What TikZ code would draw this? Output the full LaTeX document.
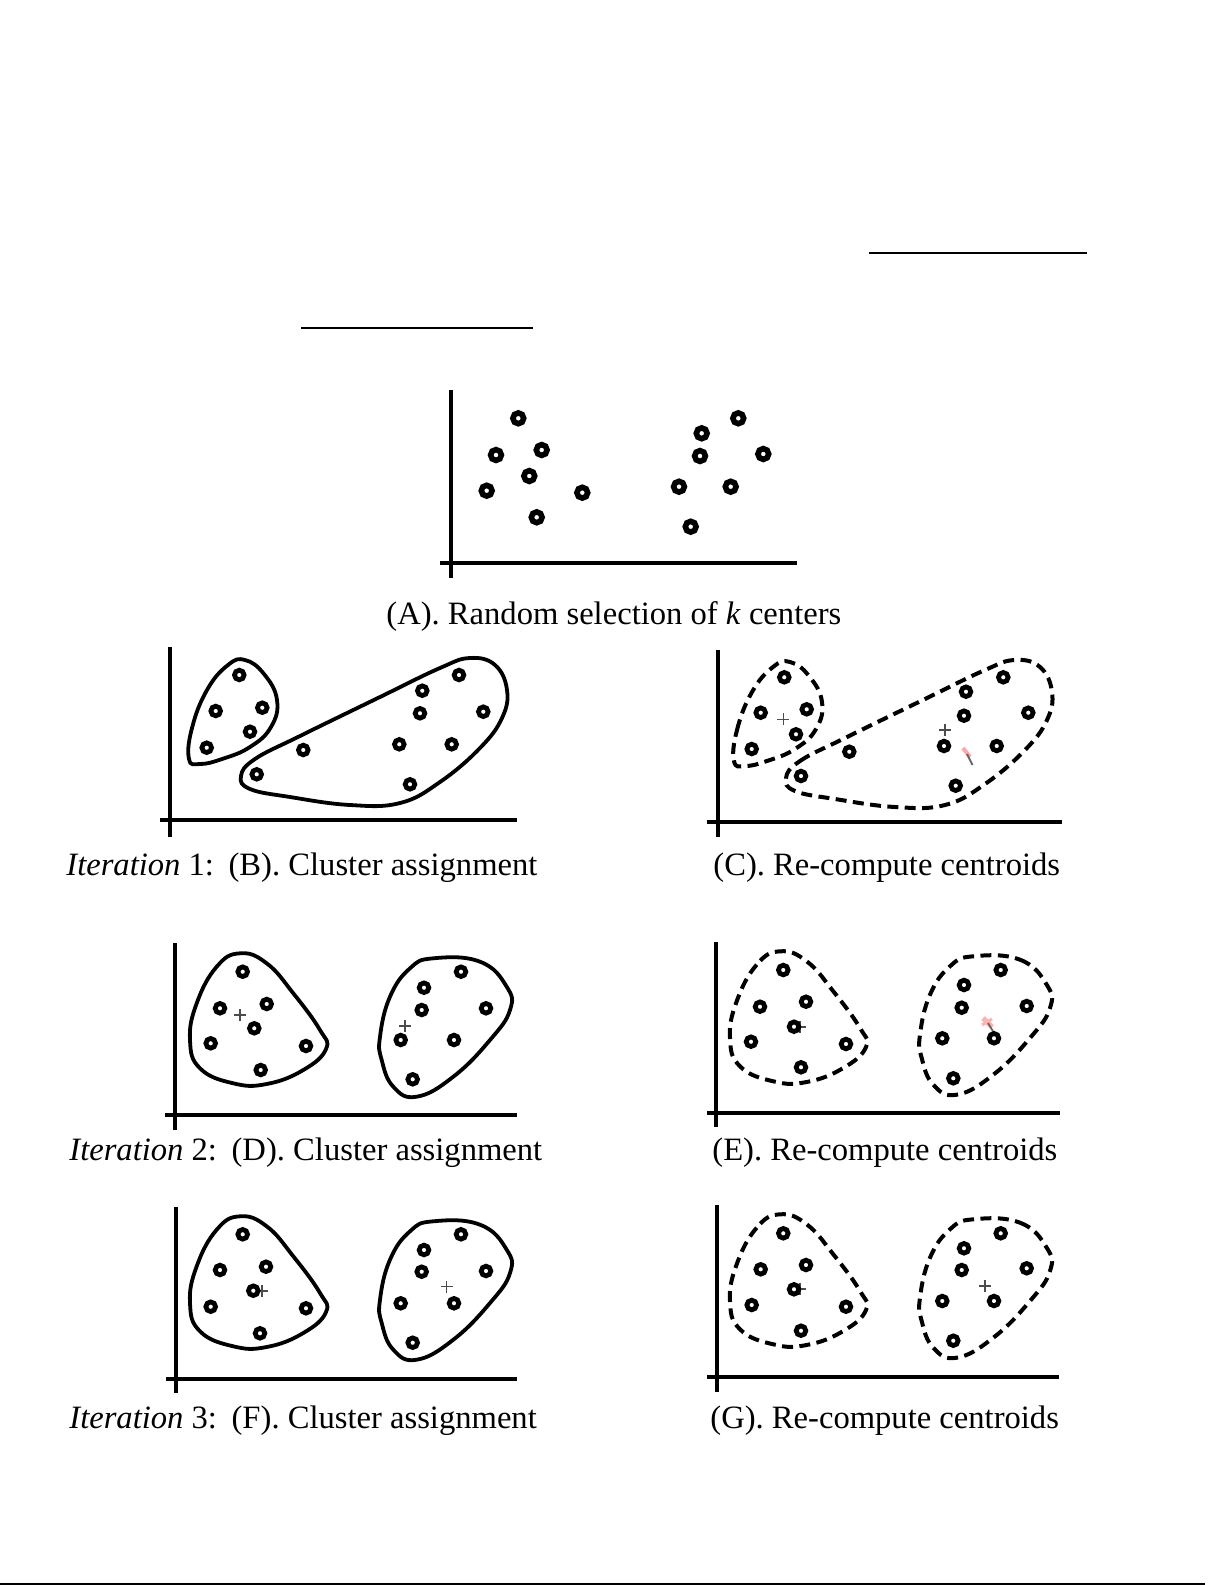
\documentclass[tikz,border=0pt]{standalone}
\usepackage{fontspec}
\setmainfont{Liberation Serif}
\newcommand\ptsA[1]{\foreach \px/\py in {#1}{\draw[ptA] (\px,\py) circle[radius=5.4];}}
\newcommand\ptsB[1]{\foreach \px/\py in {#1}{\draw[ptB] (\px,\py) circle[radius=4.8];}}
\newcommand\cplus[2]{\draw[cen] (#1,#2) ++(-6,0) -- ++(12,0) ++(-6,-6) -- ++(0,12);}
\newcommand\smallB[1]{\draw[#1] plot[smooth cycle, tension=0.75] coordinates {(189,759) (192,728) (207,690) (228,665) (245,660) (264,674) (277,700) (271,727) (250,747) (222,759) (200,764)};}
\newcommand\bigB[1]{\draw[#1] plot[smooth cycle, tension=0.7] coordinates {(241,776) (255,759) (300,736) (380,697) (440,668) (470,658) (495,665) (507,690) (502,718) (480,748) (440,782) (400,803) (350,805) (290,797) (250,789)};}
\newcommand\leftD[1]{\draw[#1] plot[smooth cycle, tension=0.75] coordinates {(240,953.3) (216.7,966.7) (196.7,1003.3) (190,1040) (200,1068.3) (233.3,1083.3) (266.7,1084) (303.3,1070) (326,1049) (320,1030) (293.3,993.3) (266.7,963.3)};}
\newcommand\rightD[1]{\draw[#1] plot[smooth cycle, tension=0.75] coordinates {(433.3,958.3) (480,961.7) (506.7,986.7) (510,1010) (490,1040) (453.3,1076.7) (416.7,1096.7) (393.3,1086.7) (381.7,1060) (380,1036.7) (390,996.7) (410,968.3)};}
\begin{document}
\begin{tikzpicture}[x=0.5bp,y=-0.5bp,
  axis/.style={line width=1.9bp},
  ptA/.style={line width=2.8bp, fill=white},
  ptB/.style={line width=2.4bp, fill=white},
  clus/.style={line width=1.9bp},
  dclus/.style={line width=2bp, dash pattern=on 5.5bp off 3.2bp},
  cen/.style={line width=0.7bp, black!70},
  captext/.style={font=\fontsize{16.3bp}{19bp}\selectfont, anchor=base west, inner sep=0pt},
  rulestyle/.style={line width=1bp}]
\useasboundingbox (0,0) rectangle (1225,1585);
\fill[white] (0,0) rectangle (1225,1585);

% top rules and bottom rule
\draw[rulestyle] (869,253) -- (1087,253);
\draw[rulestyle] (301,328) -- (533,328);
\draw[rulestyle] (0,1584) -- (1205,1584);

% ---------- Panel A ----------
\draw[axis] (450.7,390) -- (450.7,578);
\draw[axis] (440,562.7) -- (796.7,562.7);
\ptsA{518.3/418.3, 496/455, 541.7/450, 529.3/476, 486.7/490.7, 582.3/492.7, 536.7/517.3,
      738.3/418.3, 701.7/433.3, 700/456, 763.3/454, 679/486.7, 730.7/486.7, 690.7/526.7}
\node[captext] (capA) at (386,624) {(A). Random selection of \textit{k} centers};

% ---------- Panel B ----------
\draw[axis] (170,646.7) -- (170,836.7);
\draw[axis] (160,820) -- (516.7,820);
\smallB{clus}
\bigB{clus}
\ptsB{239.3/675, 215.7/711, 262.3/707.7, 250/731.7, 206.7/747.7, 303.3/750, 256.7/774.3,
      459/675, 422.3/690.7, 420/713.3, 483.3/711.7, 399.3/744.3, 451.7/744.3, 410/784.3}
\node[captext] (capB) at (66,875) {\textit{Iteration} 1:\hspace{0.45em}(B). Cluster assignment};

% ---------- Panel C ----------
\draw[axis] (718.3,650) -- (718.3,836.7);
\draw[axis] (706.7,821.7) -- (1061.7,821.7);
\begin{scope}[shift={(545,2)}]
\smallB{dclus}
\bigB{dclus}
\end{scope}
\cplus{783.3}{719.3}
\cplus{945}{730}
\draw[red!35, line width=2bp] (963,748) -- (970,757);
\draw[black!60, line width=0.9bp] (967,754) -- (972.5,765);
\ptsB{784.3/677.3, 760.7/712.7, 806.7/709.3, 796/734.3, 751.7/749, 849.3/751.7, 801/776,
      1003.3/677.3, 966/691.7, 964/715.7, 1028.3/712.7, 944/746, 996.7/746, 955.7/785.7}
\node[captext] (capC) at (713,875) {(C). Re-compute centroids};

% ---------- Panel D ----------
\draw[axis] (175,943.3) -- (175,1130);
\draw[axis] (165,1115) -- (516.7,1115);
\leftD{clus}
\rightD{clus}
\cplus{240}{1015}
\cplus{405}{1026}
\ptsB{242.7/971.7, 220/1008.3, 266.7/1004, 254.3/1028.3, 210.7/1043.3, 306/1046, 260.7/1070,
      461/971.7, 424/987.7, 421.7/1010, 486/1008.3, 400.7/1040, 454/1040, 412.7/1079.3}
\node[captext] (capD) at (69,1160) {\textit{Iteration} 2:\hspace{0.45em}(D). Cluster assignment};

% ---------- Panel E ----------
\draw[axis] (716,941.7) -- (716,1126.7);
\draw[axis] (706.7,1113.3) -- (1060,1113.3);
\begin{scope}[shift={(540,-2)}]
\leftD{dclus}
\rightD{dclus}
\end{scope}
\cplus{800}{1027}
\draw[red!30, line width=2.5bp] (983,1018) -- (992,1027);
\draw[red!30, line width=1.5bp] (982,1025) -- (992,1019);
\draw[black!60, line width=0.9bp] (988,1023) -- (994,1033);
\ptsB{783.3/970, 760/1006.7, 806/1001.7, 794/1026.7, 751/1041.7, 846/1044, 801/1067.3,
      1000.7/970, 964/985, 961.7/1007.7, 1026.7/1006, 942.3/1038.3, 994/1038.3, 953.3/1078.3}
\node[captext] (capE) at (712,1160) {(E). Re-compute centroids};

% ---------- Panel F ----------
\draw[axis] (176,1206.7) -- (176,1393.3);
\draw[axis] (166,1379) -- (516.7,1379);
\begin{scope}[shift={(0,263)}]
\leftD{clus}
\rightD{clus}
\end{scope}
\cplus{262}{1291}
\cplus{446.7}{1286.7}
\ptsB{242.7/1234.3, 220/1270, 266/1266.7, 253.3/1290.7, 210.7/1306.7, 306/1308.3, 260/1333.3,
      461/1234.3, 424/1250, 421.7/1271.7, 486/1271, 400.7/1303.3, 454/1303.3, 412.7/1342.7}
\node[captext] (capF) at (69,1428) {\textit{Iteration} 3:\hspace{0.45em}(F). Cluster assignment};

% ---------- Panel G ----------
\draw[axis] (716.7,1205) -- (716.7,1391.7);
\draw[axis] (706.7,1376.7) -- (1059.3,1376.7);
\begin{scope}[shift={(540,261)}]
\leftD{dclus}
\rightD{dclus}
\end{scope}
\cplus{800}{1289}
\cplus{985}{1286}
\ptsB{783.3/1233.3, 760.7/1269.3, 806/1265, 794/1289.3, 751.7/1305, 846/1306.7, 801/1330.7,
      1000.7/1233.3, 964/1248.3, 961.7/1270, 1026.7/1268.3, 942.3/1301, 994/1301, 953.3/1340.7}
\node[captext] (capG) at (710,1428) {(G). Re-compute centroids};
\end{tikzpicture}
\end{document}
